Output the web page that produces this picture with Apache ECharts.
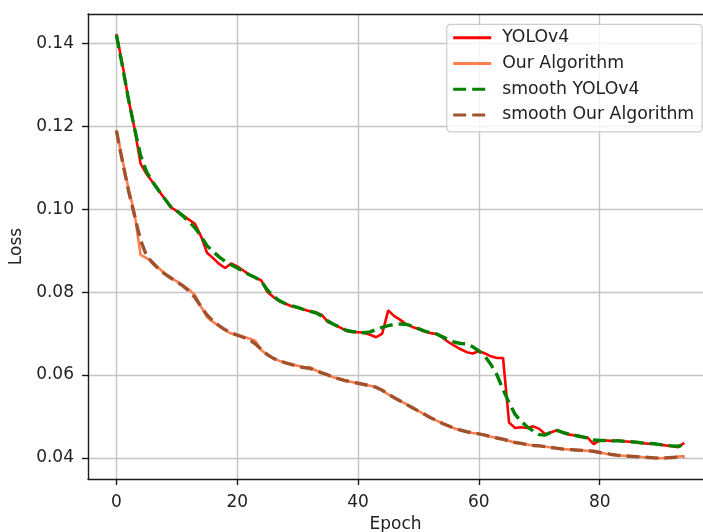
<!DOCTYPE html>
<html>
<head>
<meta charset="utf-8">
<script src="https://cdn.jsdelivr.net/npm/echarts@6/dist/echarts.min.js"></script>
<style>html,body{margin:0;padding:0;background:#fff}#c{width:703px;height:532px}</style>
</head>
<body>
<div id="c"></div>
<script>
const epochs = Array.from({length: 95}, (_, i) => i);
const yolov4 = [
0.1423,0.1350,0.1265,0.1195,0.1110,0.1085,0.1065,0.1045,0.1025,0.1005,
0.0995,0.0985,0.0975,0.0965,0.0935,0.0895,0.0882,0.0868,0.0858,0.0869,
0.0862,0.0852,0.0842,0.0835,0.0828,0.0800,0.0788,0.0778,0.0772,0.0766,
0.0763,0.0758,0.0754,0.0751,0.0745,0.0728,0.0722,0.0715,0.0707,0.0704,
0.0703,0.0702,0.0697,0.0691,0.0700,0.0756,0.0742,0.0733,0.0722,0.0716,
0.0711,0.0705,0.0701,0.0699,0.0690,0.0679,0.0670,0.0662,0.0655,0.0652,
0.0658,0.0652,0.0645,0.0641,0.0641,0.0485,0.0472,0.0474,0.0472,0.0476,
0.0470,0.0457,0.0462,0.0467,0.0460,0.0456,0.0454,0.0451,0.0449,0.0433,
0.0442,0.0442,0.0441,0.0442,0.0440,0.0439,0.0438,0.0436,0.0434,0.0434,
0.0432,0.0430,0.0428,0.0426,0.0436];
const ours = [
0.1190,0.1120,0.1050,0.0990,0.0890,0.0882,0.0873,0.0858,0.0845,0.0835,
0.0826,0.0816,0.0806,0.0793,0.0765,0.0740,0.0728,0.0718,0.0708,0.0700,
0.0697,0.0692,0.0688,0.0682,0.0660,0.0648,0.0640,0.0634,0.0630,0.0626,
0.0622,0.0618,0.0619,0.0611,0.0605,0.0600,0.0594,0.0590,0.0586,0.0583,
0.0580,0.0577,0.0574,0.0571,0.0563,0.0553,0.0545,0.0537,0.0530,0.0521,
0.0513,0.0505,0.0497,0.0490,0.0483,0.0477,0.0471,0.0466,0.0463,0.0460,
0.0458,0.0455,0.0451,0.0448,0.0445,0.0441,0.0437,0.0434,0.0432,0.0430,
0.0429,0.0427,0.0425,0.0423,0.0421,0.0420,0.0419,0.0418,0.0417,0.0416,
0.0413,0.0410,0.0408,0.0406,0.0405,0.0404,0.0404,0.0402,0.0401,0.0400,
0.0399,0.0400,0.0401,0.0403,0.0404];
const smoothYolov4 = [
0.1420,0.1345,0.1265,0.1195,0.1130,0.1090,0.1066,0.1045,0.1025,0.1006,
0.0996,0.0984,0.0970,0.0955,0.0935,0.0912,0.0898,0.0885,0.0874,0.0866,
0.0858,0.0850,0.0842,0.0835,0.0826,0.0805,0.0790,0.0779,0.0772,0.0767,
0.0763,0.0758,0.0754,0.0750,0.0742,0.0730,0.0722,0.0715,0.0708,0.0705,
0.0703,0.0702,0.0704,0.0710,0.0715,0.0719,0.0722,0.0723,0.0722,0.0718,
0.0712,0.0706,0.0702,0.0699,0.0692,0.0685,0.0679,0.0676,0.0675,0.0668,
0.0658,0.0645,0.0625,0.0600,0.0565,0.0533,0.0505,0.0488,0.0475,0.0465,
0.0456,0.0455,0.0462,0.0466,0.0461,0.0457,0.0454,0.0451,0.0448,0.0443,
0.0442,0.0442,0.0441,0.0441,0.0440,0.0439,0.0438,0.0436,0.0435,0.0434,
0.0432,0.0430,0.0429,0.0428,0.0432];
const smoothOurs = [
0.1190,0.1115,0.1045,0.0985,0.0925,0.0888,0.0870,0.0856,0.0844,0.0834,
0.0825,0.0815,0.0803,0.0787,0.0765,0.0745,0.0730,0.0719,0.0709,0.0702,
0.0696,0.0691,0.0685,0.0675,0.0661,0.0649,0.0640,0.0634,0.0629,0.0625,
0.0621,0.0618,0.0616,0.0611,0.0605,0.0600,0.0594,0.0590,0.0586,0.0583,
0.0580,0.0577,0.0574,0.0570,0.0563,0.0554,0.0545,0.0537,0.0529,0.0521,
0.0513,0.0505,0.0497,0.0490,0.0483,0.0477,0.0471,0.0467,0.0463,0.0460,
0.0458,0.0455,0.0451,0.0448,0.0445,0.0441,0.0437,0.0435,0.0432,0.0430,
0.0429,0.0427,0.0425,0.0423,0.0421,0.0420,0.0419,0.0418,0.0417,0.0416,
0.0413,0.0411,0.0408,0.0406,0.0405,0.0404,0.0403,0.0402,0.0401,0.0400,
0.0399,0.0400,0.0401,0.0402,0.0403];
const seriesNames = ['YOLOv4', 'Our Algorithm', 'smooth YOLOv4', 'smooth Our Algorithm'];
const xTicks = [0, 20, 40, 60, 80];
const yTicks = [0.04, 0.06, 0.08, 0.10, 0.12, 0.14];

const pair = arr => epochs.map((e, i) => [e, arr[i]]);
const FONT = 'DejaVu Sans';
const SPINE = '#1a1a1a';
const XMIN = -4.7, XMAX = 97.1, YMIN = 0.0349, YMAX = 0.1471;
const chart = echarts.init(document.getElementById('c'), null, {renderer: 'canvas'});
const isTick = (v, list) => list.some(t => Math.abs(v - t) < 1e-9);
chart.setOption({
  animation: false,
  backgroundColor: '#fff',
  textStyle: {fontFamily: FONT},
  grid: {left: 88, top: 14, bottom: 53, right: 0, show: false, containLabel: false, outerBoundsMode: 'none'},
  legend: {
    data: seriesNames,
    orient: 'vertical',
    left: 446.7, top: 24.3,
    itemWidth: 38, itemHeight: 14, itemGap: 5.7,
    padding: [3.5, 8, 7, 5],
    borderColor: '#cccccc', borderWidth: 1.2, borderRadius: 4,
    backgroundColor: 'rgba(255,255,255,0.8)',
    itemStyle: {opacity: 0},
    lineStyle: {width: 3},
    textStyle: {fontFamily: FONT, fontSize: 17.3, color: '#222', lineHeight: 20, padding: [0, 0, 0, 6]}
  },
  xAxis: [{
    type: 'value', min: XMIN, max: XMAX, splitNumber: 5,
    name: 'Epoch', nameLocation: 'middle', nameGap: 36,
    nameTextStyle: {fontFamily: FONT, fontSize: 17, color: '#222'},
    axisLine: {show: true, onZero: false, lineStyle: {color: SPINE, width: 1.4}},
    axisTick: {show: true, inside: false, length: 6, customValues: xTicks, lineStyle: {color: SPINE, width: 1.4}},
    axisLabel: {margin: 15, fontFamily: FONT, fontSize: 17, color: '#222', customValues: xTicks,
      formatter: v => isTick(v, xTicks) ? String(Math.round(v)) : ''},
    splitLine: {show: true, lineStyle: {color: '#c4c4c4', width: 1.4}}
  }, {
    type: 'value', min: XMIN, max: XMAX, position: 'top',
    axisLine: {show: true, onZero: false, lineStyle: {color: SPINE, width: 1.4}},
    axisTick: {show: false}, axisLabel: {show: false}, splitLine: {show: false}
  }],
  yAxis: {
    type: 'value', min: YMIN, max: YMAX, splitNumber: 5,
    name: 'Loss', nameLocation: 'middle', nameGap: 53.5, nameRotate: 90,
    nameTextStyle: {fontFamily: FONT, fontSize: 17, color: '#222'},
    axisLine: {show: true, onZero: false, lineStyle: {color: SPINE, width: 1.4}},
    axisTick: {show: true, inside: false, length: 6, customValues: yTicks, lineStyle: {color: SPINE, width: 1.4}},
    axisLabel: {margin: 14, fontFamily: FONT, fontSize: 17, color: '#222', customValues: yTicks,
      formatter: v => isTick(v, yTicks) ? v.toFixed(2) : ''},
    splitLine: {show: true, lineStyle: {color: '#c4c4c4', width: 1.4}}
  },
  series: [
    {name: seriesNames[0], type: 'line', data: pair(yolov4), symbol: 'none', color: '#ff0000', lineStyle: {color: '#ff0000', width: 2.6}},
    {name: seriesNames[1], type: 'line', data: pair(ours), symbol: 'none', color: '#ff7f50', lineStyle: {color: '#ff7f50', width: 2.6}},
    {name: seriesNames[2], type: 'line', data: pair(smoothYolov4), symbol: 'none', color: '#008000', lineStyle: {color: '#008000', width: 3.4, type: [13, 6]}},
    {name: seriesNames[3], type: 'line', data: pair(smoothOurs), symbol: 'none', color: '#a0522d', lineStyle: {color: '#a0522d', width: 3.4, type: [13, 6]}}
  ]
});
</script>
</body>
</html>
